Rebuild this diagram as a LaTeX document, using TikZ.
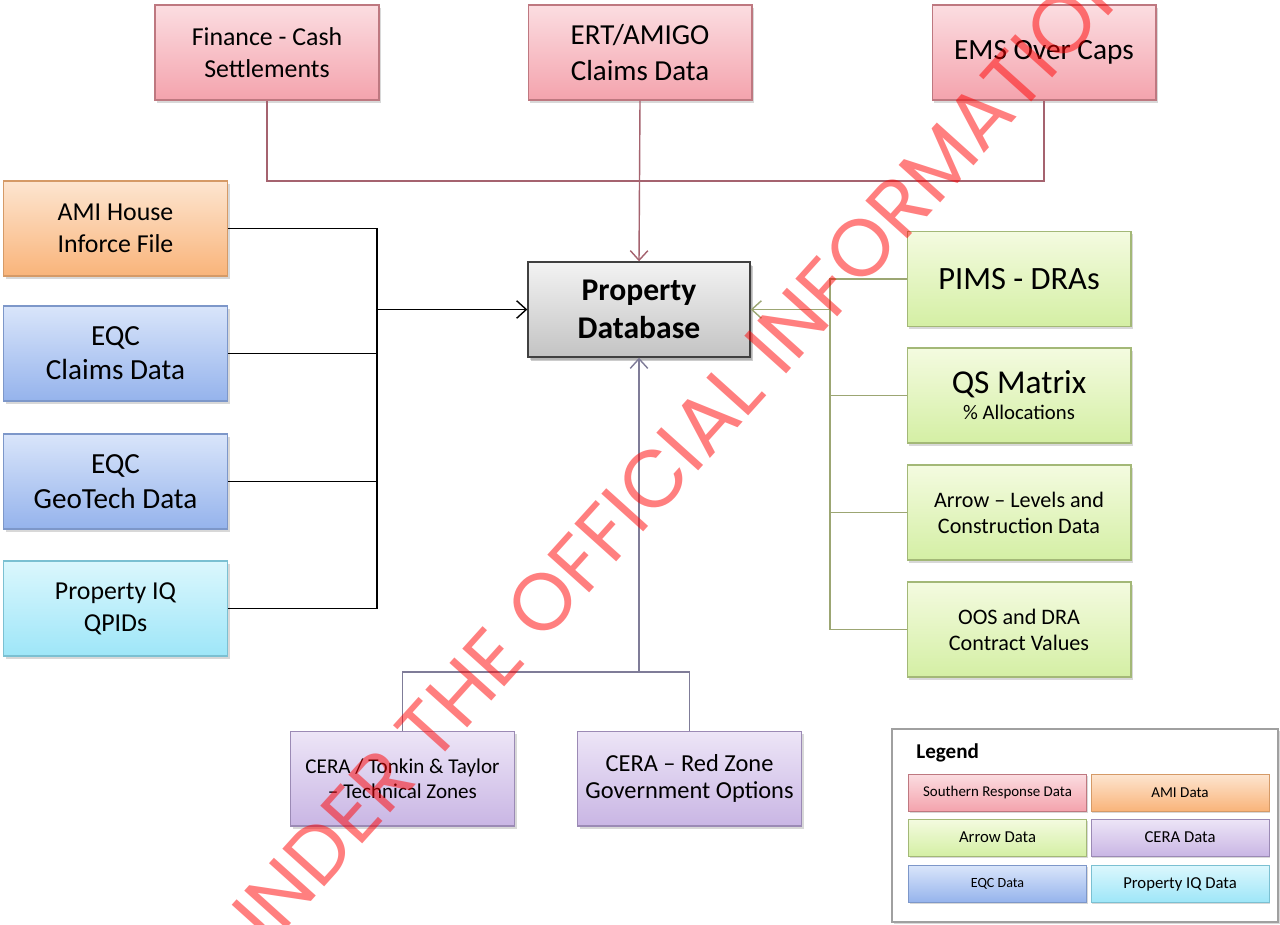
\documentclass[tikz,border=0pt]{standalone}
\usepackage{fontspec}
\setmainfont{Carlito}
\newfontfamily\stampfont{Poppins}
\usetikzlibrary{arrows.meta,shadows}

\definecolor{srtop}{HTML}{FBDDE1}
\definecolor{srbot}{HTML}{F4A3AD}
\definecolor{srline}{HTML}{BE7880}
\definecolor{amitop}{HTML}{FDE5D0}
\definecolor{amibot}{HTML}{F9B47A}
\definecolor{amiline}{HTML}{D59A67}
\definecolor{eqctop}{HTML}{D9E5FA}
\definecolor{eqcbot}{HTML}{95B3EC}
\definecolor{eqcline}{HTML}{7D97C9}
\definecolor{piqtop}{HTML}{DBF7FD}
\definecolor{piqbot}{HTML}{9EE6F8}
\definecolor{piqline}{HTML}{7BC0D2}
\definecolor{arrtop}{HTML}{F4FBE0}
\definecolor{arrbot}{HTML}{D4EFA4}
\definecolor{arrline}{HTML}{A3B877}
\definecolor{ceratop}{HTML}{EDE5F7}
\definecolor{cerabot}{HTML}{C9B6E4}
\definecolor{ceraline}{HTML}{9B8AB5}
\definecolor{dbtop}{HTML}{F3F3F3}
\definecolor{dbbot}{HTML}{C3C3C3}
\definecolor{dbline}{HTML}{404040}
\definecolor{legline}{HTML}{A0A0A0}
\definecolor{topwire}{HTML}{A5636F}
\definecolor{rightwire}{HTML}{9CA673}
\definecolor{lowwire}{HTML}{7F7C98}

\newcommand{\boxfont}[2]{\fontsize{#1}{#2}\selectfont}

\begin{document}
\begin{tikzpicture}[x=0.02cm, y=-0.02cm,
  >={Straight Barb[length=5.5pt,width=10pt]},
  box/.style={rectangle, draw, line width=0.6pt, minimum width=4.48cm,
    minimum height=1.9cm, inner sep=0pt, align=center,
    drop shadow={shadow xshift=1.2pt, shadow yshift=-1.5pt, opacity=0.3}},
  key/.style={rectangle, draw, line width=0.5pt, minimum width=3.56cm,
    minimum height=0.74cm, inner sep=0pt,
    drop shadow={shadow xshift=0.8pt, shadow yshift=-1pt, opacity=0.3}},
  sr/.style={draw=srline, top color=srtop, bottom color=srbot},
  ami/.style={draw=amiline, top color=amitop, bottom color=amibot},
  eqc/.style={draw=eqcline, top color=eqctop, bottom color=eqcbot},
  piq/.style={draw=piqline, top color=piqtop, bottom color=piqbot},
  arr/.style={draw=arrline, top color=arrtop, bottom color=arrbot},
  cera/.style={draw=ceraline, top color=ceratop, bottom color=cerabot},
  wire/.style={line width=0.8pt}]

\path[fill=white, use as bounding box] (0,0) rectangle (1280,924);

% source boxes
\node[box, sr, font=\boxfont{14.7}{18}] (fin) at (267,52.5) {Finance - Cash\\Settlements};
\node[box, sr, font=\boxfont{16.5}{20.4}] (ert) at (640,52.5) {ERT/AMIGO\\Claims Data};
\node[box, sr, font=\boxfont{16.7}{20}] (ems) at (1044,52.5) {EMS Over Caps};
\node[box, ami, font=\boxfont{14.7}{18}] (ami) at (115.5,228.5) {AMI House\\Inforce File};
\node[box, eqc, font=\boxfont{16.6}{19.5}] (claims) at (115.5,353.5) {EQC\\Claims Data};
\node[box, eqc, font=\boxfont{16.6}{19.5}] (geotech) at (115.5,481.5) {EQC\\GeoTech Data};
\node[box, piq, font=\boxfont{14.7}{18}] (qpid) at (115.5,608.5) {Property IQ\\QPIDs};
\node[box, arr, font=\boxfont{18.5}{22}] (pims) at (1019,279) {PIMS - DRAs};
\node[box, arr, font=\boxfont{11.8}{14.7}] (qs) at (1019,395.5) {{\boxfont{19}{22}QS Matrix}\\\% Allocations};
\node[box, arr, font=\boxfont{12.6}{14.8}] (levels) at (1019,512.5) {Arrow – Levels and\\Construction Data};
\node[box, arr, font=\boxfont{12.6}{14.8}] (oos) at (1019,629.5) {OOS and DRA\\Contract Values};
\node[box, cera, font=\boxfont{12}{14.5}] (tonkin) at (402.5,778.5) {CERA / Tonkin \& Taylor\\– Technical Zones};
\node[box, cera, font=\boxfont{13.9}{15}] (redzone) at (689.5,778.5) {CERA – Red Zone\\Government Options};

% the database
\node[box, draw=dbline, line width=0.8pt, top color=dbtop, bottom color=dbbot,
  minimum width=4.44cm, font=\bfseries\boxfont{18}{21.5},
  drop shadow={shadow xshift=1.5pt, shadow yshift=-2pt, opacity=0.4}] (db) at (639,309.5) {Property\\Database};

% connectors
\coordinate (topbus) at (640,181);
\coordinate (leftbus) at (377,309.5);
\coordinate (rightbus) at (830,309.5);
\coordinate (lowbus) at (639,672);

\draw[wire, topwire] (fin.south) |- (topbus) -| (ems.south);
\draw[wire, topwire, ->] (ert.south) -- (db.north);

\foreach \src in {ami, claims, geotech, qpid}
  \draw[wire, black] (\src.east) -| (leftbus);
\draw[wire, black, ->] (leftbus) -- (db.west);

\foreach \src in {pims, qs, levels, oos}
  \draw[wire, rightwire] (\src.west) -| (rightbus);
\draw[wire, rightwire, ->] (rightbus) -- (db.east);

\draw[wire, lowwire] (tonkin.north) |- (lowbus);
\draw[wire, lowwire] (redzone.north) |- (lowbus);
\draw[wire, lowwire, ->] (lowbus) -- (db.south);

% legend
\node[rectangle, draw=legline, line width=0.9pt, fill=white, minimum width=7.72cm,
  minimum height=3.86cm, inner sep=0pt,
  drop shadow={shadow xshift=1pt, shadow yshift=-1.2pt, opacity=0.3}] (legend) at (1085,825.5) {};
\node[font=\bfseries\boxfont{12}{14}, anchor=base west, inner sep=0pt] (legtitle) at (916,758) {Legend};
\node[key, sr, font=\boxfont{8.5}{10}] (keysr) at (997.5,792.5) {Southern Response Data};
\node[key, ami, font=\boxfont{8.6}{10}] (keyami) at (1180,792.5) {AMI Data};
\node[key, arr, font=\boxfont{9.5}{11}] (keyarr) at (997.5,837.5) {Arrow Data};
\node[key, cera, font=\boxfont{9.5}{11}] (keycera) at (1180,837.5) {CERA Data};
\node[key, eqc, font=\boxfont{8}{10}] (keyeqc) at (997.5,884) {EQC Data};
\node[key, piq, font=\boxfont{9.5}{11}] (keypiq) at (1180,884) {Property IQ Data};

% release stamp
\begin{scope}
  \clip (0,0) rectangle (1280,924);
  \node[text=red, opacity=0.5, inner sep=0pt, rotate=48,
    font=\stampfont\boxfont{46}{47}] (stamp) at (604,534) {RELEASED UNDER THE OFFICIAL INFORMATION ACT};
\end{scope}
\end{tikzpicture}
\end{document}
